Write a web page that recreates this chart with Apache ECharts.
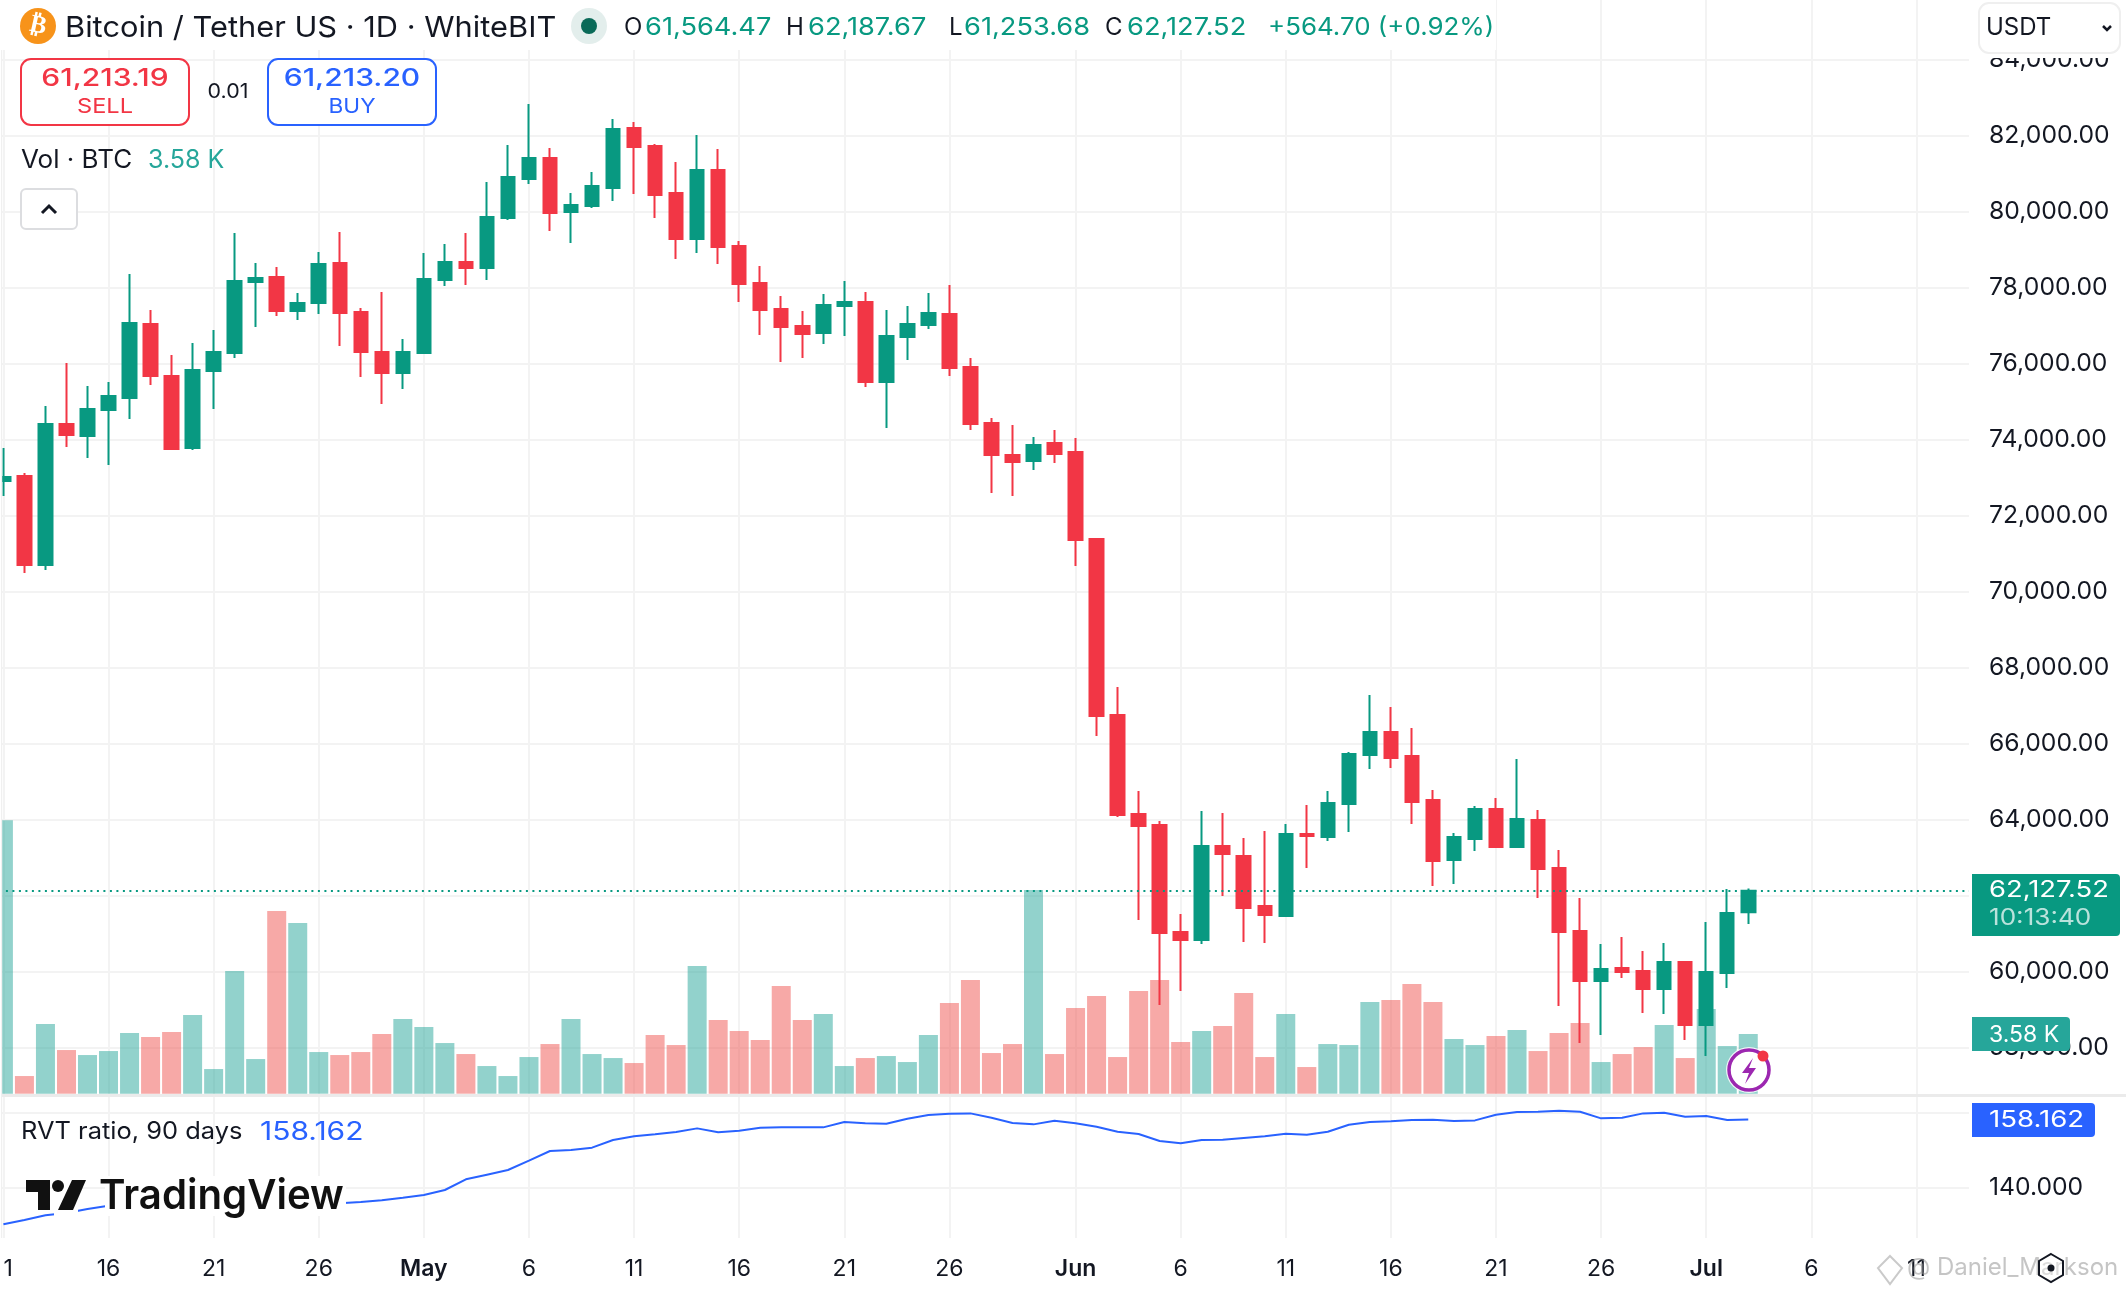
<!DOCTYPE html>
<html><head><meta charset="utf-8">
<style>html,body{margin:0;padding:0;background:#fff}#c{width:2126px;height:1292px}</style>
<script src="https://cdn.jsdelivr.net/npm/echarts@6/dist/echarts.min.js"></script>
</head><body><div id="c"></div>
<script>
// ---------- data ----------
const opens=[72913,73045,70703,74413,74097,74782,75097,77045,75676,73782,75808,76282,78150,78282,77387,77597,78650,77360,76308,75755,76282,78203,78676,78518,79834,80860,81413,79992,80150,80624,82203,81729,80492,79282,81097,79097,78124,77439,76992,76808,77518,77624,75518,76703,77018,77308,75913,74439,73597,73439,73913,73676,71387,66755,64150,63860,61045,60834,63308,63045,61729,61466,63624,63545,64413,65703,66308,65676,64518,62939,63492,64282,63281,63992,62729,61071,59755,60097,60018,59545,60255,58597,59966,61564.47];
const closes=[73018,70703,74413,74124,74808,75150,77071,75676,73755,75834,76308,78176,78255,77387,77597,78624,77334,76308,75755,76308,78229,78676,78518,79860,80913,81413,79966,80176,80676,82176,81703,80439,79282,81097,79071,78097,77413,76966,76782,77545,77624,75518,76729,77045,77334,75887,74413,73597,73413,73860,73624,71360,66729,64124,63834,61018,60834,63308,63097,61676,61492,63624,63571,64439,65729,66308,65624,64466,62913,63545,64282,63281,64018,62703,61045,59755,60071,59992,59545,60255,58597,59992,61545,62127.52];
const lows=[72518,70492,70571,73808,73518,73334,74545,75439,73755,73729,74808,76150,76966,77255,77150,77308,76466,75650,74939,75334,76282,78045,78071,78203,79782,80729,79492,79176,80097,80282,80466,79834,78755,78913,78624,77624,76755,76045,76150,76518,76729,75387,74308,76097,76913,75676,74255,72597,72518,73203,73387,70676,66203,64071,61360,59124,59492,60729,61992,60781,60755,61466,62729,63439,63676,65334,65360,63887,62255,62308,63176,63255,63281,61939,59097,58124,58334,59834,58913,58887,58203,57782,59571,61253.68];
const highs=[73782,73124,74887,76018,75413,75518,78360,77413,76229,76545,76887,79439,78650,78545,77860,78939,79466,77466,77887,76650,78913,79150,79439,80782,81755,82834,81676,80492,81045,82439,82360,81782,81308,82018,81650,79229,78571,77782,77387,77834,78176,77887,77413,77518,77860,78071,76150,74571,74387,74071,74255,74045,71387,67492,64755,63966,61518,64229,64176,63518,63703,63887,64387,64755,65781,67282,66966,66413,64781,63650,64360,64571,65597,64255,63203,61939,60729,60913,60545,60755,60255,61308,62176,62187.67];
const volumesK=[16.41,1.06,4.18,2.62,2.32,2.56,3.64,3.40,3.70,4.72,1.48,7.36,2.08,10.96,10.24,2.50,2.32,2.50,3.58,4.48,4.00,3.04,2.38,1.66,1.06,2.20,2.98,4.48,2.38,2.14,1.84,3.52,2.92,7.66,4.42,3.76,3.22,6.46,4.42,4.78,1.66,2.14,2.26,1.90,3.52,5.44,6.82,2.44,2.98,12.22,2.38,5.14,5.86,2.20,6.16,6.82,3.10,3.76,4.06,6.04,2.20,4.78,1.60,2.98,2.92,5.50,5.62,6.58,5.50,3.28,2.92,3.46,3.82,2.56,3.64,4.24,1.90,2.38,2.80,4.12,2.14,5.08,2.86,3.58];
const rvtRatio=[130.35,131.5,132.74,133.36,134.42,135.31,135.49,135.58,135.58,135.66,135.66,135.75,135.75,135.75,135.75,135.84,135.93,136.28,136.73,137.43,138.14,139.47,142.3,143.54,144.78,147.26,149.82,150.09,150.71,152.74,153.72,154.25,154.87,155.84,154.78,155.22,156.02,156.11,156.11,156.11,157.52,157.17,157.08,158.41,159.38,159.73,159.82,158.67,157.26,156.9,157.88,157.17,156.28,154.96,154.34,152.48,151.86,152.74,152.83,153.27,153.72,154.42,154.16,154.96,156.81,157.52,157.7,158.05,158.14,157.79,157.96,159.47,160.18,160.27,160.53,160.27,158.5,158.67,159.82,160,158.94,159.12,158.05,158.162];
const priceTicks=[58000,60000,62000,64000,66000,68000,70000,72000,74000,76000,78000,80000,82000,84000];
const rvtTicks=[140,160];
const tickDates=['Apr 11','Apr 16','Apr 21','Apr 26','May 1','May 6','May 11','May 16','May 21','May 26','Jun 1','Jun 6','Jun 11','Jun 16','Jun 21','Jun 26','Jul 1','Jul 6','Jul 11'];
const categories=[];
for(let d=11;d<=30;d++)categories.push('Apr '+d);
for(let d=1;d<=31;d++)categories.push('May '+d);
for(let d=1;d<=30;d++)categories.push('Jun '+d);
for(let d=1;d<=13;d++)categories.push('Jul '+d);
// ---------- styles ----------
const UP='#089981',DOWN='#f23645',GRID='#f3f3f3',INK='#131722',BLUE='#2962ff';
const FONT='Inter, "Noto Sans", sans-serif';
const isTick=(i)=>tickDates.includes(categories[i]);
const candleData=opens.map((o,i)=>[o,closes[i],lows[i],highs[i]]);
const volData=volumesK.map((v,i)=>({value:v,itemStyle:{color:closes[i]>=opens[i]?'rgba(38,166,154,0.5)':'rgba(239,83,80,0.5)'}}));
const gridLeft=-7.1,gridW=1976.1;
function t(text,x,y,size,fill,o){o=o||{};return {type:'text',z:o.z||100,x:x,y:y,scaleX:o.sx||1,scaleY:1,style:{text:text,x:0,y:0,fill:fill,font:(o.weight||'400')+' '+size+'px '+FONT,textVerticalAlign:'middle',textAlign:o.align||'left'}}}
function r(x,y,w,h,fill,stroke,lw,rad,z){return {type:'rect',z:z||99,shape:{x:x,y:y,width:w,height:h,r:rad||0},style:{fill:fill,stroke:stroke||null,lineWidth:lw||0}}}
const lastClose=closes[closes.length-1];
const els=[
 r(0,0,1496,50,'#fff'),
 r(1972,0,154,58,'#fff',null,0,0,98),
 {type:'circle',z:100,shape:{cx:38,cy:26,r:18},style:{fill:'#f7931a'}},
 {type:'text',z:101,x:38,y:26,rotation:-0.22,style:{text:'₿',x:0,y:0,fill:'#fff',font:'700 25px "DejaVu Sans"',textAlign:'center',textVerticalAlign:'middle'}},
 t('Bitcoin / Tether US · 1D · WhiteBIT',65,28,29,INK,{sx:1.062}),
 {type:'circle',z:100,shape:{cx:589,cy:26,r:18},style:{fill:'#e3eeec'}},
 {type:'circle',z:101,shape:{cx:589,cy:26,r:8},style:{fill:'#0a6a58'}},
 t('O',624,28,24,INK), t('61,564.47',645,28,24,UP,{sx:1.134}),
 t('H',786,28,24,INK), t('62,187.67',808,28,24,UP,{sx:1.134}),
 t('L',949,28,24,INK), t('61,253.68',964,28,24,UP,{sx:1.134}),
 t('C',1105,28,24,INK), t('62,127.52',1127,28,24,UP,{sx:1.134}),
 t('+564.70 (+0.92%)',1268,28,24,UP,{sx:1.08}),
 r(21,59,168,66,'#fff',DOWN,2,10), t('61,213.19',105,79,24,DOWN,{align:'center',weight:'500',sx:1.25}), t('SELL',105,107,20,DOWN,{align:'center',sx:1.18}),
 t('0.01',228,92,20,INK,{align:'center',sx:1.07}),
 r(268,59,168,66,'#fff',BLUE,2,10), t('61,213.20',352,79,24,BLUE,{align:'center',weight:'500',sx:1.25}), t('BUY',352,107,20,BLUE,{align:'center',sx:1.13}),
 t('Vol · BTC',21,160,25,INK,{sx:1.04}), t('3.58 K',148,160,25,'#26a69a'),
 r(21,189,56,40,'#fff','#dcdde0',2,5),
 {type:'polyline',z:100,shape:{points:[[42,213],[49,206],[56,213]]},style:{stroke:INK,lineWidth:3,fill:null}},
 r(1979,3,141,50,'#fff','#efefef',2,10), t('USDT',1986,28,24,INK),
 {type:'polyline',z:100,shape:{points:[[2103,26],[2107,30],[2111,26]]},style:{stroke:INK,lineWidth:2.5,fill:null}},
 // price tags
 r(1972,874,148,62,UP,null,0,[0,4,4,0]), t('62,127.52',1989,890,23,'#fff',{sx:1.19}), t('10:13:40',1989,918,23,'rgba(255,255,255,0.72)',{sx:1.136}),
 r(1972,1017,98,34,'#26a69a',null,0,[0,4,4,0]), t('3.58 K',1989,1035,23,'#fff'),
 r(1972,1097,154,8,'#fff',null,0,0,97),
 r(1972,1103,123,34,BLUE,null,0,[0,4,4,0]), t('158.162',1989,1120,23,'#fff',{sx:1.2}),
 // pane separator, left edge
 r(0,0,2,1292,'#fff',null,0,0,98), r(1,0,1.2,1238,'#f0f0f0',null,0,0,98),
 r(0,1094,2126,3,'#ebebeb',null,0,0,97),
 t('RVT ratio, 90 days',21,1132,24,INK,{sx:1.06}), t('158.162',260,1132,25,BLUE,{sx:1.2}),
 // logo
 r(54,1176,24,40,'#fff',null,0,0,96),
 r(105,1176,241,40,'#fff',null,0,0,96),
 {type:'polygon',z:100,shape:{points:[[26,1180],[50,1180],[50,1210],[38,1210],[38,1192],[26,1192]]},style:{fill:'#111'}},
 {type:'circle',z:100,shape:{cx:58,cy:1186,r:6},style:{fill:'#111'}},
 {type:'polygon',z:100,shape:{points:[[72,1180],[86,1180],[73,1210],[58,1210]]},style:{fill:'#111'}},
 t('TradingView',99,1197,41,'#111',{weight:'600',sx:0.98}),
 // lightning icon
 {type:'circle',z:100,shape:{cx:1749,cy:1070,r:23},style:{fill:'rgba(255,255,255,0.85)'}},
 {type:'circle',z:101,shape:{cx:1749,cy:1070,r:20},style:{fill:'#fff',stroke:'#9c27b0',lineWidth:3.5}},
 {type:'polygon',z:102,shape:{points:[[1753,1058],[1742,1073],[1749,1073],[1745,1084],[1756,1068],[1749,1068]]},style:{fill:'#9c27b0'}},
 {type:'circle',z:103,shape:{cx:1763,cy:1056,r:5.5},style:{fill:DOWN}},
 // watermark + settings
 t('@ Daniel_Markson',1907,1268,24,'rgba(150,150,150,0.55)',{z:103}),
 {type:'polygon',z:103,shape:{points:[[1890,1256],[1902,1268],[1890,1284],[1878,1268]]},style:{fill:null,stroke:'rgba(150,150,150,0.5)',lineWidth:2}},
 {type:'polygon',z:104,shape:{points:[[2051,1254],[2063,1261],[2063,1275],[2051,1282],[2039,1275],[2039,1261]]},style:{fill:'rgba(255,255,255,0.4)',stroke:'#131722',lineWidth:2}},
 {type:'circle',z:104,shape:{cx:2051,cy:1268,r:3.5},style:{fill:'#131722'}}
];
const chart=echarts.init(document.getElementById('c'),null,{renderer:'canvas',width:2126,height:1292});
const axisBase={type:'category',data:categories,boundaryGap:true,axisLine:{show:false},axisTick:{show:false,alignWithLabel:true,interval:(i)=>isTick(i)},axisLabel:{show:false}};
chart.setOption({
 animation:false,backgroundColor:'#fff',
 grid:[
  {left:gridLeft,top:0,width:gridW,height:1096,outerBoundsMode:'none'},
  {left:gridLeft,top:793.7,width:gridW,height:300,outerBoundsMode:'none'},
  {left:gridLeft,top:1097,width:gridW,height:141,outerBoundsMode:'none'}
 ],
 xAxis:[
  Object.assign({},axisBase,{gridIndex:0,splitLine:{show:true,alignWithLabel:true,interval:(i)=>isTick(i),lineStyle:{color:GRID,width:2}}}),
  Object.assign({},axisBase,{gridIndex:1,splitLine:{show:false}}),
  Object.assign({},axisBase,{gridIndex:2,splitLine:{show:true,alignWithLabel:true,interval:(i)=>isTick(i),lineStyle:{color:GRID,width:2}},
   axisLabel:{show:true,interval:(i)=>isTick(i),margin:20,hideOverlap:false,color:INK,fontFamily:FONT,fontSize:23,
    formatter:(v)=>{const p=v.split(' ');return p[1]==='1'?'{b|'+p[0]+'}':p[1];},
    rich:{b:{fontWeight:600,fontFamily:FONT,fontSize:23,color:INK}}}})
 ],
 yAxis:[
  {type:'value',gridIndex:0,position:'right',min:56729,max:85571,scale:true,axisLine:{show:false},
   axisTick:{show:false,customValues:priceTicks},
   splitLine:{show:true,lineStyle:{color:GRID,width:2}},
   axisLabel:{customValues:priceTicks,margin:20,align:'left',color:INK,fontFamily:FONT,fontSize:24.7,formatter:(v)=>Number(v).toLocaleString('en-US',{minimumFractionDigits:2,maximumFractionDigits:2})}},
  {type:'value',gridIndex:1,min:0,max:18,show:false},
  {type:'value',gridIndex:2,position:'right',min:126.72,max:164.17,scale:true,axisLine:{show:false},
   axisTick:{show:false,customValues:rvtTicks},
   splitLine:{show:true,lineStyle:{color:GRID,width:2}},
   axisLabel:{customValues:rvtTicks,margin:20,align:'left',color:INK,fontFamily:FONT,fontSize:24.7,formatter:(v)=>Number(v).toFixed(3)}}
 ],
 series:[
  {type:'bar',name:'Volume',xAxisIndex:1,yAxisIndex:1,data:volData,barWidth:19,z:1,silent:true},
  {type:'candlestick',name:'BTCUSDT',xAxisIndex:0,yAxisIndex:0,data:candleData,barWidth:14,z:3,
   itemStyle:{color:UP,color0:DOWN,borderColor:UP,borderColor0:DOWN,borderWidth:2},
   markLine:{silent:true,symbol:'none',label:{show:false},lineStyle:{color:UP,type:[2,4.5],width:2},data:[{yAxis:lastClose}],animation:false}},
  {type:'line',name:'RVT ratio',xAxisIndex:2,yAxisIndex:2,data:rvtRatio,showSymbol:false,smooth:false,z:3,lineStyle:{color:BLUE,width:2}}
 ],
 graphic:{elements:els}
});
</script></body></html>
